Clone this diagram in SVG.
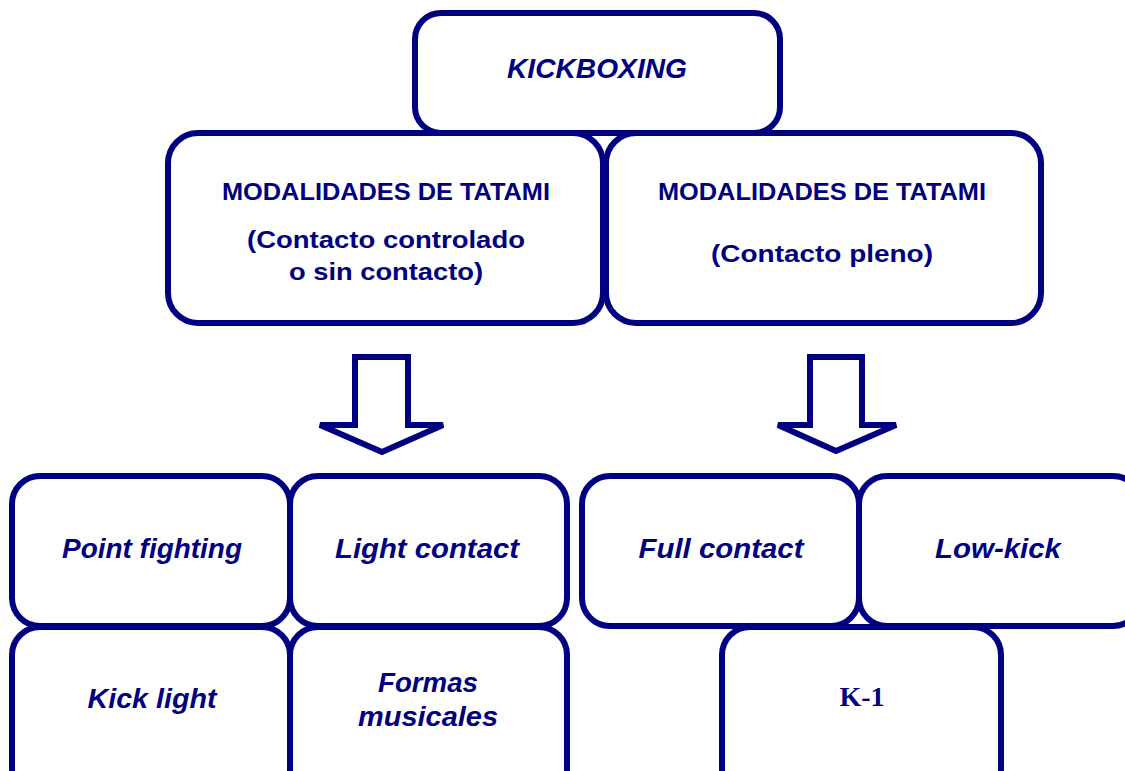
<svg xmlns="http://www.w3.org/2000/svg" width="1125" height="771" viewBox="0 0 1125 771">
<style>
.box{fill:#fff;stroke:#000080;stroke-width:6}
.arrow{fill:#fff;stroke:#000080;stroke-width:6;stroke-linejoin:miter}
.t{font-family:"Liberation Sans",Arial,sans-serif;fill:#000080;font-weight:bold;text-anchor:middle}
.i{font-style:italic;font-size:27px}
.h{font-size:24px}
.s{font-family:"Liberation Serif","Times New Roman",serif;fill:#000080;font-weight:bold;font-size:28px;text-anchor:middle}
</style>
<rect width="1125" height="771" fill="#fff"/>
<g id="kickboxing">
<rect class="box" x="415" y="13" width="365" height="120" rx="26"/>
<text class="t i" x="597" y="78" textLength="180" lengthAdjust="spacingAndGlyphs">KICKBOXING</text>
</g>
<g id="tatami-controlado">
<rect class="box" x="168" y="133" width="435" height="190" rx="30"/>
<text class="t h" x="386" y="200" textLength="328" lengthAdjust="spacingAndGlyphs">MODALIDADES DE TATAMI</text>
<text class="t h" x="386" y="248" textLength="278" lengthAdjust="spacingAndGlyphs">(Contacto controlado</text>
<text class="t h" x="386" y="280" textLength="194" lengthAdjust="spacingAndGlyphs">o sin contacto)</text>
</g>
<g id="tatami-pleno">
<rect class="box" x="606" y="133" width="435" height="190" rx="30"/>
<text class="t h" x="822" y="200" textLength="328" lengthAdjust="spacingAndGlyphs">MODALIDADES DE TATAMI</text>
<text class="t h" x="822" y="262" textLength="222" lengthAdjust="spacingAndGlyphs">(Contacto pleno)</text>
</g>
<g id="connectors">
<polygon class="arrow" points="355,357 408,357 408,425 443,425 382,452 320,425 355,425"/>
<polygon class="arrow" points="810,357 862,357 862,425 896,425 836,451 778,425 810,425"/>
</g>
<g id="point-fighting">
<rect class="box" x="12" y="476" width="278" height="150" rx="28"/>
<text class="t i" x="152" y="558" textLength="180" lengthAdjust="spacingAndGlyphs">Point fighting</text>
</g>
<g id="light-contact">
<rect class="box" x="290" y="476" width="277" height="150" rx="28"/>
<text class="t i" x="427" y="558" textLength="184" lengthAdjust="spacingAndGlyphs">Light contact</text>
</g>
<g id="kick-light">
<rect class="box" x="12" y="627" width="278" height="170" rx="28"/>
<text class="t i" x="152" y="708" textLength="129" lengthAdjust="spacingAndGlyphs">Kick light</text>
</g>
<g id="formas-musicales">
<rect class="box" x="290" y="627" width="277" height="170" rx="28"/>
<text class="t i" x="428" y="692" textLength="100" lengthAdjust="spacingAndGlyphs">Formas</text>
<text class="t i" x="428" y="726" textLength="140" lengthAdjust="spacingAndGlyphs">musicales</text>
</g>
<g id="full-contact">
<rect class="box" x="582" y="476" width="277" height="150" rx="28"/>
<text class="t i" x="721" y="558" textLength="165" lengthAdjust="spacingAndGlyphs">Full contact</text>
</g>
<g id="low-kick">
<rect class="box" x="859" y="476" width="282" height="150" rx="28"/>
<text class="t i" x="998" y="558" textLength="126" lengthAdjust="spacingAndGlyphs">Low-kick</text>
</g>
<g id="k-1">
<rect class="box" x="722" y="627" width="279" height="170" rx="28"/>
<text class="s" x="862" y="706">K-1</text>
</g>
</svg>
